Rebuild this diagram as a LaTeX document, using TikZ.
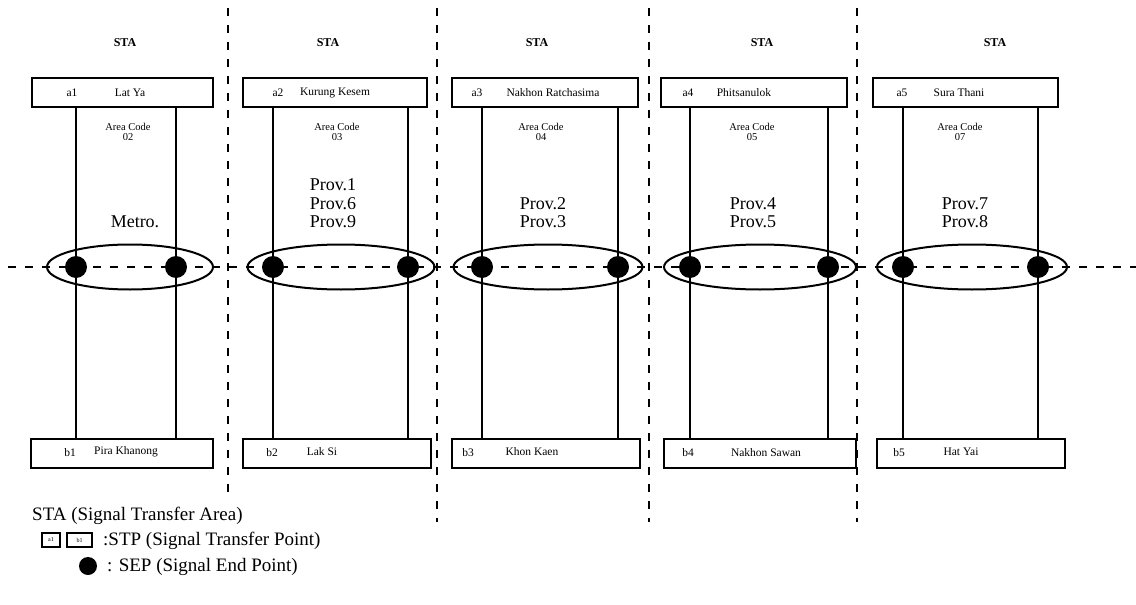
\documentclass[tikz,border=0pt]{standalone}
\usepackage{fontspec}
\setmainfont{Liberation Serif}
\usetikzlibrary{shapes.geometric,positioning}
\tikzset{
  stpbox/.style={draw,line width=2pt,minimum height=29pt,inner sep=0pt},
  boxtext/.style={font=\fontsize{11.5}{12}\selectfont,inner sep=0pt},
  head/.style={font=\fontsize{12}{13}\selectfont\bfseries,inner sep=0pt},
  areatext/.style={font=\fontsize{10.5}{10}\selectfont,align=center,inner sep=0pt},
  provtext/.style={font=\fontsize{18}{18.5}\selectfont,align=center,inner sep=0pt,anchor=south},
  ring/.style={draw,ellipse,line width=2pt,minimum height=45pt,inner sep=0pt},
  sepdot/.style={circle,fill=black,minimum size=22pt,inner sep=0pt},
  trunk/.style={line width=2pt},
  divider/.style={line width=2.5pt,dash pattern=on 8pt off 9pt},
  signal/.style={line width=1.8pt,dash pattern=on 8pt off 9pt},
  legendtext/.style={font=\fontsize{19}{20}\selectfont,anchor=west,inner sep=0pt}
}
\begin{document}
\begin{tikzpicture}[x=1pt,y=-1pt]
  \useasboundingbox (0,0) rectangle (1136,605);

  % column 1
  \node[head] (sta1) at (125,43) {STA};
  \node[stpbox,minimum width=181pt] (a1) at (122.5,92.5) {};
  \node[boxtext] (a1code) at (72,92.5) {a1};
  \node[boxtext] (a1name) at (130,92.5) {Lat Ya};
  \node[stpbox,minimum width=182pt] (b1) at (122,453) {};
  \node[boxtext] (b1code) at (70,453) {b1};
  \node[boxtext] (b1name) at (126,452) {Pira Khanong};
  \node[areatext] (area1) at (128,132) {Area Code\\02};
  \node[provtext] (prov1) at (135,228) {Metro.};
  \node[ring,minimum width=166pt] (g1) at (130,267) {};
  \node[sepdot] (s1l) at (76,267) {};
  \node[sepdot] (s1r) at (176,267) {};
  \draw[trunk] (a1.south -| s1l) -- (b1.north -| s1l);
  \draw[trunk] (a1.south -| s1r) -- (b1.north -| s1r);

  % column 2
  \node[head] (sta2) at (328,43) {STA};
  \node[stpbox,minimum width=184pt] (a2) at (335,92.5) {};
  \node[boxtext] (a2code) at (278,92.5) {a2};
  \node[boxtext] (a2name) at (335,92.5) {Kurung Kesem};
  \node[stpbox,minimum width=188pt] (b2) at (337,453) {};
  \node[boxtext] (b2code) at (272,453) {b2};
  \node[boxtext] (b2name) at (322,452) {Lak Si};
  \node[areatext] (area2) at (337,132) {Area Code\\03};
  \node[provtext] (prov2) at (333,228) {Prov.1\\Prov.6\\Prov.9};
  \node[ring,minimum width=187pt] (g2) at (341,267) {};
  \node[sepdot] (s2l) at (273,267) {};
  \node[sepdot] (s2r) at (408,267) {};
  \draw[trunk] (a2.south -| s2l) -- (b2.north -| s2l);
  \draw[trunk] (a2.south -| s2r) -- (b2.north -| s2r);

  % column 3
  \node[head] (sta3) at (537,43) {STA};
  \node[stpbox,minimum width=186pt] (a3) at (545,92.5) {};
  \node[boxtext] (a3code) at (477,92.5) {a3};
  \node[boxtext] (a3name) at (553,92.5) {Nakhon Ratchasima};
  \node[stpbox,minimum width=188pt] (b3) at (546,453) {};
  \node[boxtext] (b3code) at (468,453) {b3};
  \node[boxtext] (b3name) at (532,452) {Khon Kaen};
  \node[areatext] (area3) at (541,132) {Area Code\\04};
  \node[provtext] (prov3) at (543,228) {Prov.2\\Prov.3};
  \node[ring,minimum width=189pt] (g3) at (548,267) {};
  \node[sepdot] (s3l) at (482,267) {};
  \node[sepdot] (s3r) at (618,267) {};
  \draw[trunk] (a3.south -| s3l) -- (b3.north -| s3l);
  \draw[trunk] (a3.south -| s3r) -- (b3.north -| s3r);

  % column 4
  \node[head] (sta4) at (762,43) {STA};
  \node[stpbox,minimum width=186pt] (a4) at (754,92.5) {};
  \node[boxtext] (a4code) at (688,92.5) {a4};
  \node[boxtext] (a4name) at (744,92.5) {Phitsanulok};
  \node[stpbox,minimum width=192pt] (b4) at (760,453) {};
  \node[boxtext] (b4code) at (688,453) {b4};
  \node[boxtext] (b4name) at (766,453) {Nakhon Sawan};
  \node[areatext] (area4) at (752,132) {Area Code\\05};
  \node[provtext] (prov4) at (753,228) {Prov.4\\Prov.5};
  \node[ring,minimum width=192pt] (g4) at (760,267) {};
  \node[sepdot] (s4l) at (690,267) {};
  \node[sepdot] (s4r) at (828,267) {};
  \draw[trunk] (a4.south -| s4l) -- (b4.north -| s4l);
  \draw[trunk] (a4.south -| s4r) -- (b4.north -| s4r);

  % column 5
  \node[head] (sta5) at (995,43) {STA};
  \node[stpbox,minimum width=185pt] (a5) at (965.5,92.5) {};
  \node[boxtext] (a5code) at (902,92.5) {a5};
  \node[boxtext] (a5name) at (959,92.5) {Sura Thani};
  \node[stpbox,minimum width=188pt] (b5) at (971,453) {};
  \node[boxtext] (b5code) at (899,453) {b5};
  \node[boxtext] (b5name) at (961,452) {Hat Yai};
  \node[areatext] (area5) at (960,132) {Area Code\\07};
  \node[provtext] (prov5) at (965,228) {Prov.7\\Prov.8};
  \node[ring,minimum width=190pt] (g5) at (972,267) {};
  \node[sepdot] (s5l) at (903,267) {};
  \node[sepdot] (s5r) at (1038,267) {};
  \draw[trunk] (a5.south -| s5l) -- (b5.north -| s5l);
  \draw[trunk] (a5.south -| s5r) -- (b5.north -| s5r);

  % signalling line and STA borders
  \coordinate (linew) at (8,267);
  \coordinate (linee) at (1136,267);
  \draw[signal] (linew) -- (linee);
  \coordinate (d1t) at (228,8);   \coordinate (d1b) at (228,498);
  \coordinate (d2t) at (437,8);   \coordinate (d2b) at (437,522);
  \coordinate (d3t) at (649,8);   \coordinate (d3b) at (649,522);
  \coordinate (d4t) at (857,8);   \coordinate (d4b) at (857,522);
  \draw[divider] (d1t) -- (d1b);
  \draw[divider] (d2t) -- (d2b);
  \draw[divider] (d3t) -- (d3b);
  \draw[divider] (d4t) -- (d4b);

  % legend
  \node[legendtext] (legsta) at (32,516) {STA (Signal Transfer Area)};
  \node[draw,line width=1.5pt,minimum width=18pt,minimum height=14pt,inner sep=0pt,font=\fontsize{6}{6}\selectfont] (lega) at (51,540) {a1};
  \node[draw,line width=1.5pt,minimum width=25pt,minimum height=14pt,inner sep=0pt,font=\fontsize{6}{6}\selectfont] (legb) at (79.5,540) {b1};
  \node[legendtext] (legstp) at (103,541) {:STP (Signal Transfer Point)};
  \node[sepdot,minimum size=18pt] (legdot) at (88,566) {};
  \node[legendtext] (legsep) at (107,567) {: SEP (Signal End Point)};
\end{tikzpicture}
\end{document}
